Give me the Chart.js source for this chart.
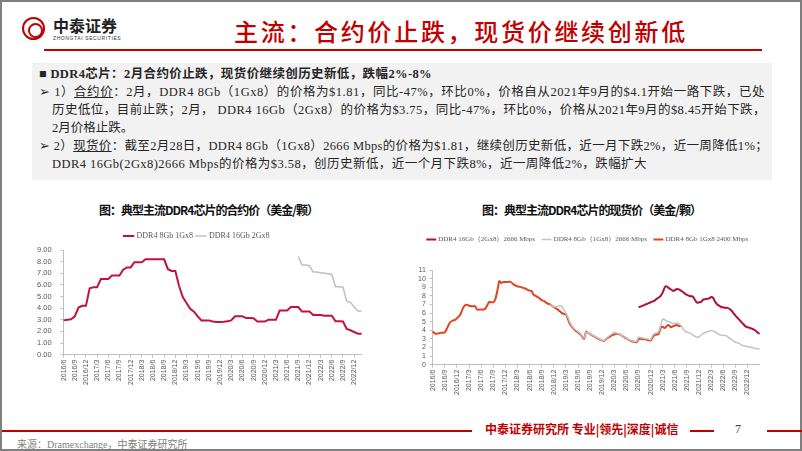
<!DOCTYPE html>
<html lang="zh">
<head>
<meta charset="UTF-8">
<title>主流：合约价止跌，现货价继续创新低</title>
<script src="https://cdn.jsdelivr.net/npm/chart.js"></script>
<style>
  * { box-sizing: border-box; }
  body { margin: 0; width: 802px; height: 451px; overflow: hidden; background: #fff;
         font-family: "Liberation Serif", "Noto Sans CJK SC", serif; }
  #slide { position: absolute; left: 0; top: 0; width: 802px; height: 451px; border: 2px solid #7f7f7f; }
  .abs { position: absolute; white-space: nowrap; }
  #logo { left: 20px; top: 15px; width: 23px; height: 23px; border: 2px solid #c00000; border-radius: 50%; }
  #logo:after { content: ""; position: absolute; left: 4px; top: 4px; width: 11px; height: 11px;
                border: 2px solid #c00000; border-radius: 50%; }
  #brand { left: 51px; top: 11px; font-family: "Noto Sans CJK SC"; font-weight: bold; font-size: 16px; color: #222; }
  #brandEn { left: 51px; top: 33px; font-family: "Liberation Sans"; font-size: 5px; color: #333; letter-spacing: .6px; }
  #title { left: 232px; top: 11px; font-family: "Noto Sans CJK SC"; font-weight: 500; font-size: 24px;
           letter-spacing: 2.7px; color: #c00000; }
  #hline { left: 42px; top: 47px; width: 718px; height: 2px; background: #c00000; }
  #box { left: 30px; top: 61px; width: 740px; height: 117px; background: #f2f2f2; }
  .ln { position: absolute; left: 7px; font-size: 12.5px; color: #262626; white-space: nowrap; line-height: 16px; }
  .ind { left: 20px; }
  .b { font-weight: bold; }
  .ctitle { top: 199px; font-family: "Noto Sans CJK SC"; font-weight: bold; font-size: 12px; color: #111; }
  canvas { position: absolute; }
  #fline1 { left: 0; top: 428px; width: 470px; height: 2px; background: #c00000; }
  #fline2 { left: 688px; top: 428px; width: 24px; height: 2px; background: #c00000; }
  #fline3 { left: 765px; top: 428px; width: 35px; height: 2px; background: #c00000; }
  #motto { left: 483px; top: 418px; font-family: "Noto Sans CJK SC"; font-weight: bold; font-size: 12px; color: #c00000; }
  #page { left: 733px; top: 420px; font-size: 12px; color: #404040; }
  #src { left: 15px; top: 434px; font-size: 10px; color: #7f7f7f; }
</style>
</head>
<body>
<div id="slide">
  <div id="logo" class="abs"></div>
  <div id="brand" class="abs">中泰证券</div>
  <div id="brandEn" class="abs">ZHONGTAI SECURITIES</div>
  <div id="title" class="abs">主流：合约价止跌，现货价继续创新低</div>
  <div id="hline" class="abs"></div>

  <div id="box" class="abs">
    <div class="ln b fit" data-r="432" style="top:3px">■ DDR4芯片：2月合约价止跌，现货价继续创历史新低，跌幅2%-8%</div>
    <div class="ln fit" data-r="765" style="top:21px">➢ 1）<u>合约价</u>：2月，DDR4 8Gb（1Gx8）的价格为$1.81，同比-47%，环比0%，价格自从2021年9月的$4.1开始一路下跌，已处</div>
    <div class="ln ind fit" data-r="766" style="top:39px">历史低位，目前止跌；2月， DDR4 16Gb（2Gx8）的价格为$3.75，同比-47%，环比0%，价格从2021年9月的$8.45开始下跌，</div>
    <div class="ln ind" style="top:57px">2月价格止跌。</div>
    <div class="ln fit" data-r="768" style="top:75px">➢ 2）<u>现货价</u>：截至2月28日，DDR4 8Gb（1Gx8）2666 Mbps的价格为$1.81，继续创历史新低，近一月下跌2%，近一周降低1%；</div>
    <div class="ln ind fit" data-r="647" style="top:93px">DDR4 16Gb(2Gx8)2666 Mbps的价格为$3.58，创历史新低，近一个月下跌8%，近一周降低2%，跌幅扩大</div>
  </div>

  <div class="abs ctitle fit" data-r="318" style="left:97px">图：典型主流DDR4芯片的合约价（美金/颗）</div>
  <div class="abs ctitle fit" data-r="701" style="left:480px">图：典型主流DDR4芯片的现货价（美金/颗）</div>

  <canvas id="contract" width="352" height="174" style="left:18px; top:226px"></canvas>
  <canvas id="spot" width="366" height="176" style="left:402px; top:224px"></canvas>

  <div id="fline1" class="abs"></div>
  <div id="motto" class="abs">中泰证券研究所 专业|领先|深度|诚信</div>
  <div id="fline2" class="abs"></div>
  <div id="page" class="abs">7</div>
  <div id="fline3" class="abs"></div>
  <div id="src" class="abs">来源：Dramexchange，中泰证券研究所</div>
</div>

<script>
// stretch / squeeze each text line so it ends where the slide's line ends
document.querySelectorAll('.fit[data-r]').forEach(el => {
  const box = el.getBoundingClientRect();
  const n = el.textContent.length;
  el.style.letterSpacing = ((+el.dataset.r - box.right) / n) + 'px';
});

// ---- contract price, monthly, 2016/6 .. 2023/2
const contractMonths = [];
for (let y = 2016, m = 6; !(y === 2023 && m === 3); ) {
  contractMonths.push(y + '/' + m);
  m++; if (m > 12) { m = 1; y++; }
}
const contract8Gb = [2.95,3.0,3.05,3.3,4.05,4.2,4.2,5.7,5.8,5.8,
  6.5,6.5,6.5,6.8,6.8,6.8,7.3,7.5,7.5,7.95,
  7.95,7.95,8.2,8.2,8.2,8.2,8.2,8.2,7.35,7.2,
  7.2,5.9,4.95,4.45,3.95,3.7,3.3,2.95,2.95,2.95,
  2.85,2.82,2.82,2.84,2.88,2.95,3.3,3.3,3.3,3.15,
  3.15,3.13,2.85,2.85,2.85,3.0,3.0,3.0,3.8,3.8,
  3.8,4.1,4.1,4.1,3.71,3.71,3.71,3.41,3.41,3.41,
  3.35,3.35,3.35,2.88,2.88,2.85,2.21,2.1,1.95,1.81,
  1.81];
const contract16Gb = Array(63).fill(null).concat([8.45,7.7,7.7,7.65,7.1,7.1,7.05,7.0,6.95,6.9,
  5.85,5.85,5.8,4.6,4.5,4.1,3.75,3.75]);
const contractTicks = [0,1,2,3,4,5,6,7,8,9];

// ---- spot price, half-monthly, 2016/6 .. 2023/3
const spotDates = [];
for (let y = 2016, m = 6; ; ) {
  spotDates.push(y + '/' + m + '/1');
  if (y === 2023 && m === 3) break;
  spotDates.push(y + '/' + m + '/15');
  m++; if (m > 12) { m = 1; y++; }
}
const spot8Gb2400 = [3.85,3.65,3.6,3.65,3.7,3.7,3.75,4.2,4.7,5.0,
  5.15,5.2,5.4,5.6,6.0,6.6,6.9,6.95,6.85,6.8,
  6.8,6.8,6.4,6.4,6.4,6.4,6.5,6.9,7.3,7.25,
  7.25,7.6,8.6,9.7,9.5,9.6,9.6,9.6,9.65,9.55,
  9.35,9.2,9.1,9.05,9.0,8.9,8.85,8.7,8.6,8.55,
  8.1,8.0,7.85,7.7,7.5,7.4,7.25,7.1,7.0,6.85,
  6.7,6.55,6.4,6.2,6.0,5.9,5.85,5.3,4.7,4.4,
  4.1,3.9,3.75,3.55,3.3,3.0,3.85,3.7,3.55,3.4,
  3.3,3.15,3.0,2.9,2.8,2.75,3.0,3.15,3.3,3.45,
  3.5,3.6,3.55,3.5,3.35,3.2,3.05,2.9,2.8,2.7,
  2.65,2.6,2.95,3.0,2.95,2.95,2.9,2.85,2.8,3.2,
  3.45,3.5,3.6,4.3,4.4,4.25,4.5,4.6,4.35,4.45,
  4.55,4.6,4.5,4.5];
const spot8Gb2666 = Array(58).fill(null).concat([7.0,6.85,6.75,6.7,6.8,6.85,6.75,6.4,5.95,5.5,
  4.9,4.5,4.2,4.0,3.85,3.65,3.4,3.1,3.8,3.7,
  3.55,3.45,3.35,3.2,3.05,2.95,2.85,2.8,3.05,3.25,
  3.45,3.6,3.75,3.7,3.6,3.5,3.4,3.25,3.1,2.95,
  2.85,2.75,2.7,2.7,3.2,3.15,3.1,3.05,3.0,2.95,
  2.9,3.4,3.6,3.7,3.8,4.6,5.3,5.2,5.05,5.0,
  4.9,4.8,4.8,4.85,4.75,4.55,4.2,3.9,3.8,3.7,
  3.6,3.45,3.3,3.2,3.25,3.45,3.65,3.75,3.8,3.9,
  3.95,3.9,3.8,3.65,3.5,3.45,3.4,3.4,3.3,3.1,
  2.9,2.75,2.6,2.55,2.45,2.3,2.2,2.15,2.1,2.05,
  2.0,1.95,1.9,1.85,1.81]);
const spot16Gb2666 = Array(102).fill(null).concat([6.7,6.75,6.85,6.95,7.05,7.15,7.25,7.35,7.45,7.65,
  7.8,8.0,8.4,9.0,9.1,8.9,8.75,8.6,8.65,8.8,
  8.75,8.6,8.45,8.25,8.1,8.0,7.95,7.9,7.5,7.2,
  7.25,7.3,7.55,7.6,7.65,7.7,7.85,7.75,7.3,7.0,
  6.85,6.7,6.65,6.6,6.6,6.5,6.3,6.0,5.7,5.45,
  5.2,4.95,4.7,4.45,4.35,4.3,4.2,4.1,3.95,3.75,
  3.58]);
const spotTicks = [0,1,2,3,4,5,6,7,8,9,10,11];

const axisGrey = '#bfbfbf';
const tickFont = { family: 'Liberation Sans', size: 7 };

const legendGap = gap => ({
  id: 'legendGap',
  beforeInit(chart) {
    const fit = chart.legend.fit;
    chart.legend.fit = function () { fit.call(this); this.height += gap; };
  }
});

function xAxis(every, lastIdx, fmt) {
  return {
    ticks: {
      autoSkip: false, minRotation: 90, maxRotation: 90, color: '#595959', font: tickFont, padding: 2,
      callback(v, i) { return (i % every === 0 && i <= lastIdx) ? fmt(this.getLabelForValue(v)) : ''; }
    },
    grid: { drawOnChartArea: false, tickLength: 3,
            color: c => (c.index % every === 0 && c.index <= lastIdx) ? axisGrey : 'rgba(0,0,0,0)' },
    border: { color: axisGrey }
  };
}

function yAxis(max, list, fmt, size, pad) {
  return {
    min: 0, max: max,
    afterBuildTicks(ax) { ax.ticks = list.map(v => ({ value: v })); },
    ticks: { autoSkip: false, color: '#595959', font: { family: 'Liberation Sans', size: size },
             padding: pad, callback: fmt },
    grid: { drawOnChartArea: false, tickLength: 3, color: axisGrey },
    border: { color: axisGrey }
  };
}

new Chart(document.getElementById('contract'), {
  type: 'line',
  data: {
    labels: contractMonths,
    datasets: [
      { label: 'DDR4 8Gb 1Gx8', data: contract8Gb, borderColor: '#c0143c', borderWidth: 2 },
      { label: 'DDR4 16Gb 2Gx8', data: contract16Gb, borderColor: '#bfbfbf', borderWidth: 1.5 }
    ]
  },
  options: {
    responsive: false, animation: false,
    elements: { point: { radius: 0 }, line: { tension: 0 } },
    layout: { padding: { left: 8, right: 6, top: 0, bottom: 15 } },
    plugins: {
      tooltip: { enabled: false },
      legend: { labels: { font: { family: 'Liberation Serif', size: 8 }, color: '#595959',
                          usePointStyle: true, pointStyle: 'line', boxWidth: 17, padding: 4 } }
    },
    scales: {
      x: xAxis(3, 78, s => s),
      y: yAxis(9, contractTicks, v => v.toFixed(2), 7.5, 9)
    }
  },
  plugins: [legendGap(0)]
});

new Chart(document.getElementById('spot'), {
  type: 'line',
  data: {
    labels: spotDates,
    datasets: [
      { label: 'DDR4 16Gb（2Gx8）2666 Mbps', data: spot16Gb2666, borderColor: '#b0103a', borderWidth: 2 },
      { label: 'DDR4 8Gb（1Gx8）2666 Mbps', data: spot8Gb2666, borderColor: '#c3c3c3', borderWidth: 1.5 },
      { label: 'DDR4 8Gb 1Gx8 2400 Mbps', data: spot8Gb2400, borderColor: '#e2431e', borderWidth: 2 }
    ]
  },
  options: {
    responsive: false, animation: false,
    elements: { point: { radius: 0 }, line: { tension: 0.2 } },
    layout: { padding: { left: 10, right: 8, top: 2, bottom: 5 } },
    plugins: {
      tooltip: { enabled: false },
      legend: { labels: { font: { family: 'Liberation Serif', size: 7 }, color: '#595959',
                          usePointStyle: true, pointStyle: 'line', boxWidth: 20, padding: 8 } }
    },
    scales: {
      x: xAxis(6, 156, s => s.slice(0, s.lastIndexOf('/'))),
      y: yAxis(11, spotTicks, v => v, 7, 4)
    }
  },
  plugins: [legendGap(17)]
});
</script>
</body>
</html>
